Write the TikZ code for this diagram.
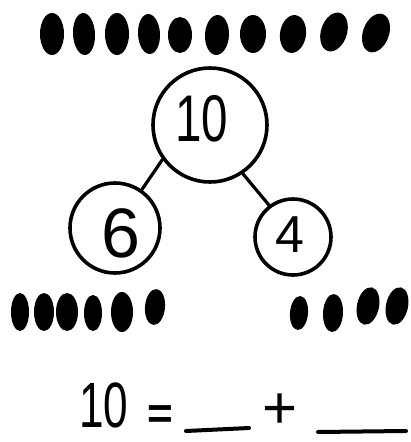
\documentclass[tikz,border=0pt]{standalone}
\usepackage{fontspec}
\setmainfont{Liberation Sans}
\newfontfamily\narrowten[FakeStretch=0.72]{Liberation Sans}
\newfontfamily\narroweq[FakeStretch=0.69]{Liberation Sans}
\newfontfamily\boldsym{Liberation Sans Bold}
\begin{document}
\begin{tikzpicture}[x=1pt,y=-1pt,
  ring/.style={draw,circle,line width=3.6pt,inner sep=0pt},
  link/.style={line width=3.2pt,line cap=round},
  dotfill/.style={fill=black},
  blank/.style={line width=4pt,line cap=round}]
\useasboundingbox (0,0) rectangle (410,442);
% top row of ten dots
\foreach \x/\y/\rx/\ry/\r in {52/34/12/21/0,84/34/11/21/-3,117/34/12/21/0,149/34/11/20/-3,180/35/12/18/0,
  217/35/12/20/3,253/34/13/19/0,293/34/13/19/8,334/32/13/20/18,376/33/13/20/20}
  \fill[dotfill,rotate around={-\r:(\x,\y)}] (\x,\y) ellipse [x radius=\rx, y radius=\ry];
% number bond
\node[ring,minimum size=114pt] (n10) at (210,125) {};
\node[inner sep=0pt] (t10) at (202,119) {\narrowten\fontsize{66}{66}\selectfont 10};
\node[ring,minimum size=90pt] (n6) at (115,228) {};
\node[inner sep=0pt] (t6) at (121,233) {\fontsize{70}{70}\selectfont 6};
\node[ring,minimum size=76pt] (n4) at (293,237) {};
\node[inner sep=0pt] (t4) at (290,235) {\fontsize{52}{52}\selectfont 4};
\draw[link] (n10.216) -- (n6.55);
\draw[link] (n10.304) -- (n4.127);
% bottom-left six dots
\foreach \x/\y/\rx/\ry/\r in {20/312/9/19/0,44/312/10/19/0,67/312/11/19/0,93/313/9/18/0,122/312/11/20/0,155/307/10/18/5}
  \fill[dotfill,rotate around={-\r:(\x,\y)}] (\x,\y) ellipse [x radius=\rx, y radius=\ry];
% bottom-right four dots
\foreach \x/\y/\rx/\ry/\r in {299/313/9/17/5,333/313/10/19/3,368/306/11/19/12,397/306/11/19/12}
  \fill[dotfill,rotate around={-\r:(\x,\y)}] (\x,\y) ellipse [x radius=\rx, y radius=\ry];
% equation
\node[inner sep=0pt] (eqten) at (104,405) {\narroweq\fontsize{64}{64}\selectfont 10};
\node[inner sep=0pt] (eqeq) at (160,417) {\boldsym\fontsize{44}{44}\selectfont =};
\node[inner sep=0pt] (eqplus) at (280,411) {\fontsize{60}{60}\selectfont +};
\draw[blank] (186,431) -- (249,428);
\draw[blank] (318,432) -- (406,431);
\end{tikzpicture}
\end{document}
